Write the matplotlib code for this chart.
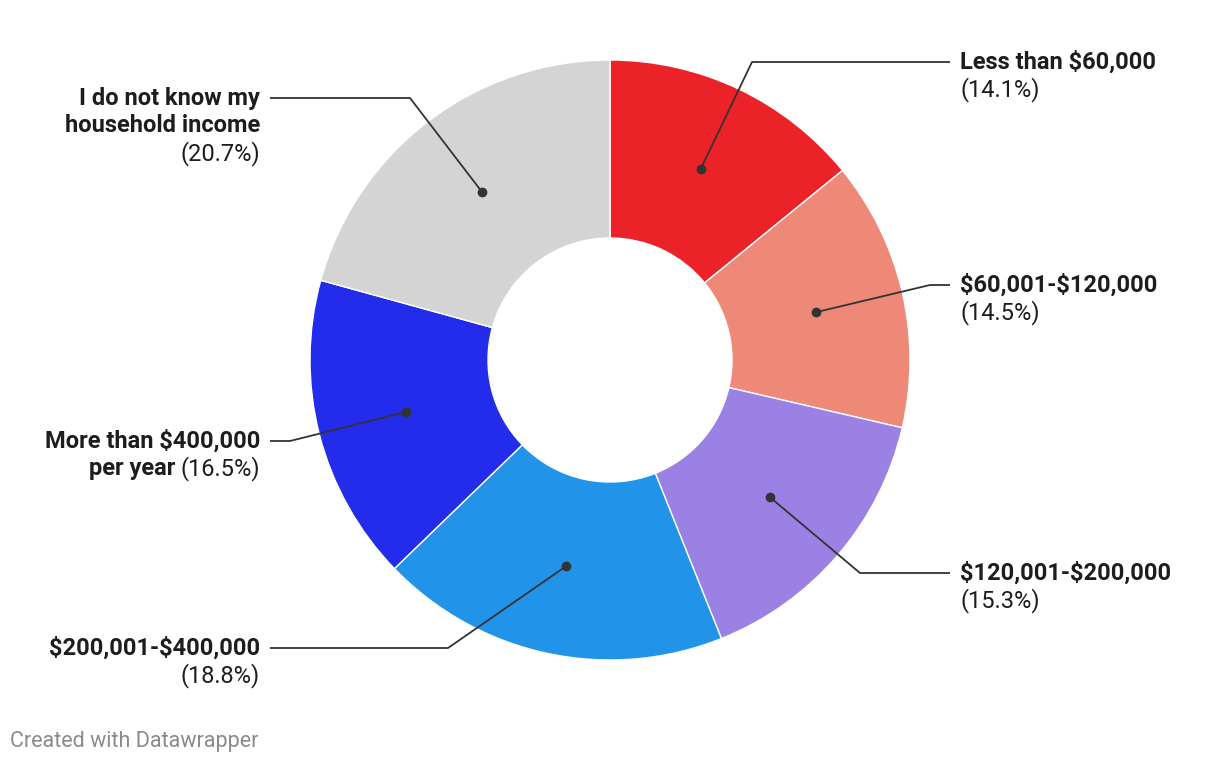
"""Donut chart of household income shares, Datawrapper style."""
import numpy as np
import matplotlib.pyplot as plt

plt.rcParams["font.family"] = ["Roboto", "DejaVu Sans"]
plt.rcParams["text.parse_math"] = False  # labels have dollar signs

names = [
    "Less than $60,000",
    "$60,001-$120,000",
    "$120,001-$200,000",
    "$200,001-$400,000",
    "More than $400,000\nper year",
    "I do not know my\nhousehold income",
]
shares = [14.1, 14.5, 15.3, 18.8, 16.5, 20.7]
colors = ["#EC2229", "#EE8978", "#9A81E3", "#2194EA", "#222CEA", "#D4D4D4"]

# label layout (pixels from top-left): side, elbow of leader line / first text line y
sides = ["right", "right", "right", "left", "left", "left"]
elbows = [(752, 62), (930, 285), (860, 573), (448, 648), (290, 441), (410, 98)]
pct_inline = [False, False, False, False, True, False]

W, H = 1220, 766
CX, CY = 610, 360
R_OUT, R_IN = 300, 122
FS = 17
LINE = 28
TXT = "#1d1d1d"

fig = plt.figure(figsize=(W / 100, H / 100), dpi=100)
ax = fig.add_axes([0, 0, 1, 1])

ax.pie(shares, colors=colors, startangle=90, counterclock=False,
       radius=R_OUT, center=(CX, H - CY),
       wedgeprops=dict(width=R_OUT - R_IN, edgecolor="white", linewidth=1))
ax.set_xlim(0, W)
ax.set_ylim(0, H)
ax.set_aspect("equal")
ax.axis("off")

frac = np.array(shares) / sum(shares)
mids = np.cumsum(frac) - frac / 2
r_mid = (R_OUT + R_IN) / 2
renderer = fig.canvas.get_renderer()

for i, name in enumerate(names):
    ang = np.radians(90 - 360 * mids[i])
    dx, dy = CX + r_mid * np.cos(ang), (H - CY) + r_mid * np.sin(ang)
    ex, ey = elbows[i]
    if sides[i] == "right":
        lx, tx, ha = 950, 960, "left"
    else:
        lx, tx, ha = 270, 260, "right"
    ax.plot([dx, ex, lx], [dy, H - ey, H - ey], color="#333333", lw=1.3,
            solid_capstyle="butt", zorder=3)
    ax.plot(dx, dy, "o", color="#333333", ms=6, zorder=4)

    lines = name.split("\n")
    pct = f"({shares[i]:.1f}%)"
    for j, ln in enumerate(lines):
        y = H - (ey + j * LINE)
        if pct_inline[i] and j == len(lines) - 1:
            t = ax.text(tx, y, pct, ha="right", va="center", fontsize=FS, color=TXT)
            bb = t.get_window_extent(renderer=renderer)
            ax.text(tx - bb.width - 5, y, ln, ha="right", va="center",
                    fontsize=FS, fontweight="bold", color=TXT)
        else:
            ax.text(tx, y, ln, ha=ha, va="center", fontsize=FS,
                    fontweight="bold", color=TXT)
    if not pct_inline[i]:
        y = H - (ey + len(lines) * LINE)
        ax.text(tx, y, pct, ha=ha, va="center", fontsize=FS, color=TXT)

ax.text(10, H - 742, "Created with Datawrapper", ha="left", va="center",
        fontsize=15.5, color="#8a8a8a")

fig.savefig("out.png", dpi=100)
